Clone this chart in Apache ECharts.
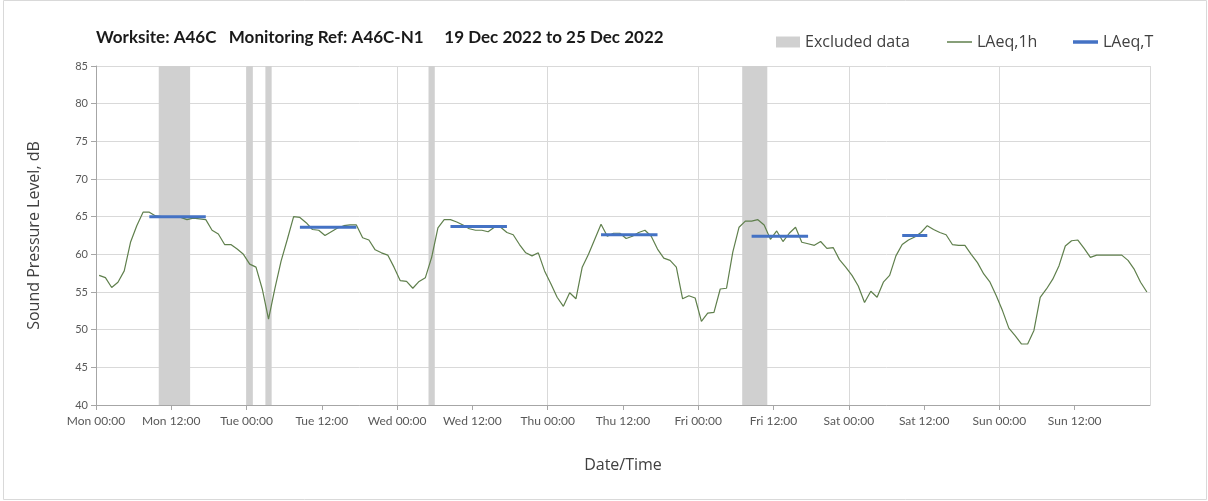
<!DOCTYPE html>
<html lang="en">
  <head>
    <meta charset="UTF-8" />
    <script src="https://cdn.jsdelivr.net/npm/echarts@6/dist/echarts.min.js"></script>
    <title>A46C-N1</title>
    <style>
      html, body { margin: 0; padding: 0; background: #fff; }
      #app { width: 1208px; height: 501px; }
    </style>
  </head>
  <body>
    <div id="app"></div>

    <script>
      // hour labels, x is hours since Mon 00:00
      const dayNames = ["Mon", "Tue", "Wed", "Thu", "Fri", "Sat", "Sun"];

      // hourly LAeq,1h from Mon 00:00 (one value per hour, 168 values)
      const laeq1h = [
        57.2, 56.9, 55.6, 56.3, 57.8, 61.6, 63.8, 65.6, 65.6, 65.1,
        65.0, 64.9, 65.0, 64.9, 64.6, 64.8, 64.7, 64.6, 63.2, 62.7,
        61.3, 61.3, 60.7, 60.0, 58.7, 58.3, 55.4, 51.4, 55.4, 59.1,
        62.0, 65.0, 64.9, 64.2, 63.3, 63.2, 62.5, 63.0, 63.5, 63.8,
        63.9, 63.9, 62.2, 61.9, 60.6, 60.2, 59.9, 58.3, 56.5, 56.4,
        55.5, 56.4, 56.9, 59.6, 63.5, 64.6, 64.6, 64.3, 63.9, 63.4,
        63.2, 63.2, 63.0, 63.6, 63.6, 62.9, 62.6, 61.3, 60.2, 59.8,
        60.2, 57.8, 56.1, 54.3, 53.1, 54.9, 54.1, 58.3, 60.0, 62.0,
        64.0, 62.4, 62.8, 62.8, 62.1, 62.4, 62.9, 63.2, 62.4, 60.7,
        59.5, 59.2, 58.3, 54.1, 54.5, 54.2, 51.1, 52.2, 52.3, 55.4,
        55.5, 60.3, 63.6, 64.4, 64.4, 64.6, 63.9, 62.0, 63.1, 61.7,
        62.8, 63.6, 61.6, 61.4, 61.2, 61.7, 60.8, 60.9, 59.3, 58.3,
        57.2, 55.8, 53.6, 55.1, 54.3, 56.3, 57.2, 59.8, 61.3, 61.9,
        62.3, 62.9, 63.8, 63.3, 62.9, 62.6, 61.3, 61.2, 61.2, 60.0,
        58.9, 57.4, 56.3, 54.5, 52.5, 50.2, 49.2, 48.1, 48.1, 49.9,
        54.3, 55.4, 56.7, 58.5, 61.1, 61.8, 61.9, 60.8, 59.6, 59.9,
        59.9, 59.9, 59.9, 59.9, 59.2, 58.0, 56.3, 55.0
      ];

      // LAeq,T periods: first hour, last hour, level
      const periodStart = [8, 32, 56, 80, 104, 128];
      const periodEnd = [17, 41, 65, 89, 113, 132];
      const periodLevel = [65.0, 63.6, 63.7, 62.6, 62.4, 62.5];

      // excluded hours (from, to)
      const excludedFrom = [10, 24, 27, 53, 103];
      const excludedTo = [15, 25, 28, 54, 107];

      const titleText =
        "Worksite: A46C   Monitoring Ref: A46C-N1     19 Dec 2022 to 25 Dec 2022";

      const font = "Lato";
      const textFont = "Open Sans";
      const chart = echarts.init(document.getElementById("app"));

      // each hourly value is plotted at the middle of its hour
      const hourlyData = laeq1h.map((v, i) => [i + 0.5, v]);

      const periodSeries = periodStart.map((s, i) => ({
        name: "LAeq,T",
        type: "line",
        xAxisIndex: 0,
        symbol: "none",
        z: 4,
        lineStyle: { color: "#4472c4", width: 3 },
        itemStyle: { color: "#4472c4" },
        data: [
          [s + 0.5, periodLevel[i]],
          [periodEnd[i] + 0.5, periodLevel[i]],
        ],
      }));

      const legendBase = {
        top: 29,
        orient: "horizontal",
        selectedMode: false,
        textStyle: { fontFamily: textFont, fontSize: 16, color: "#404040" },
        icon: "rect",
      };

      chart.setOption({
        animation: false,
        title: {
          text: titleText,
          left: 91,
          top: 24,
          textStyle: {
            fontFamily: font,
            fontSize: 17,
            fontWeight: "bold",
            color: "#1a1a1a",
          },
        },
        legend: [
          Object.assign({}, legendBase, {
            left: 771,
            data: ["Excluded data"],
            itemWidth: 24,
            itemHeight: 11,
          }),
          Object.assign({}, legendBase, {
            left: 942,
            data: ["LAeq,1h"],
            itemWidth: 25,
            itemHeight: 1.5,
          }),
          Object.assign({}, legendBase, {
            left: 1068,
            data: ["LAeq,T"],
            itemWidth: 25,
            itemHeight: 3.5,
          }),
        ],
        grid: { left: 96, right: 58, top: 66, bottom: 96 },
        xAxis: [
          {
            type: "value",
            min: 0,
            max: 168,
            interval: 12,
            name: "Date/Time",
            nameLocation: "middle",
            nameGap: 52,
            nameTextStyle: { fontFamily: textFont, fontSize: 16, color: "#404040" },
            axisLine: { lineStyle: { color: "#a6a6a6" } },
            axisTick: { show: true, length: 5, lineStyle: { color: "#a6a6a6" } },
            splitLine: { show: false },
            axisLabel: {
              fontFamily: font,
              fontSize: 12,
              color: "#595959",
              margin: 10,
              showMaxLabel: false,
              formatter: (v) =>
                dayNames[Math.floor(v / 24) % 7] + " " + (v % 24 === 0 ? "00:00" : "12:00"),
            },
          },
          {
            type: "value",
            min: 0,
            max: 168,
            interval: 24,
            position: "bottom",
            axisLine: { show: false },
            axisTick: { show: false },
            axisLabel: { show: false },
            splitLine: { show: true, lineStyle: { color: "#d9d9d9" } },
          },
        ],
        yAxis: {
          type: "value",
          min: 40,
          max: 85,
          interval: 5,
          name: "Sound Pressure Level, dB",
          nameLocation: "middle",
          nameGap: 54,
          nameTextStyle: { fontFamily: textFont, fontSize: 16, color: "#404040" },
          axisLine: { show: true, lineStyle: { color: "#a6a6a6" } },
          axisTick: { show: true, length: 5, lineStyle: { color: "#a6a6a6" } },
          axisLabel: { fontFamily: font, fontSize: 11, color: "#595959", margin: 8 },
          splitLine: { show: true, lineStyle: { color: "#d9d9d9" } },
        },
        graphic: [
          {
            type: "rect",
            shape: { x: 3.5, y: 0.5, width: 1203, height: 499 },
            style: { fill: "none", stroke: "#d9d9d9", lineWidth: 1 },
            silent: true,
          },
        ],
        series: [
          {
            name: "Excluded data",
            type: "line",
            xAxisIndex: 0,
            data: [],
            itemStyle: { color: "#d0d0d0" },
            markArea: {
              silent: true,
              itemStyle: { color: "#d0d0d0", opacity: 1 },
              data: excludedFrom.map((f, i) => [{ xAxis: f }, { xAxis: excludedTo[i] }]),
            },
          },
          {
            name: "LAeq,1h",
            type: "line",
            xAxisIndex: 0,
            symbol: "none",
            z: 3,
            lineStyle: { color: "#5f7f4c", width: 1.2 },
            itemStyle: { color: "#5f7f4c" },
            data: hourlyData,
          },
        ].concat(periodSeries),
      });
    </script>
  </body>
</html>
